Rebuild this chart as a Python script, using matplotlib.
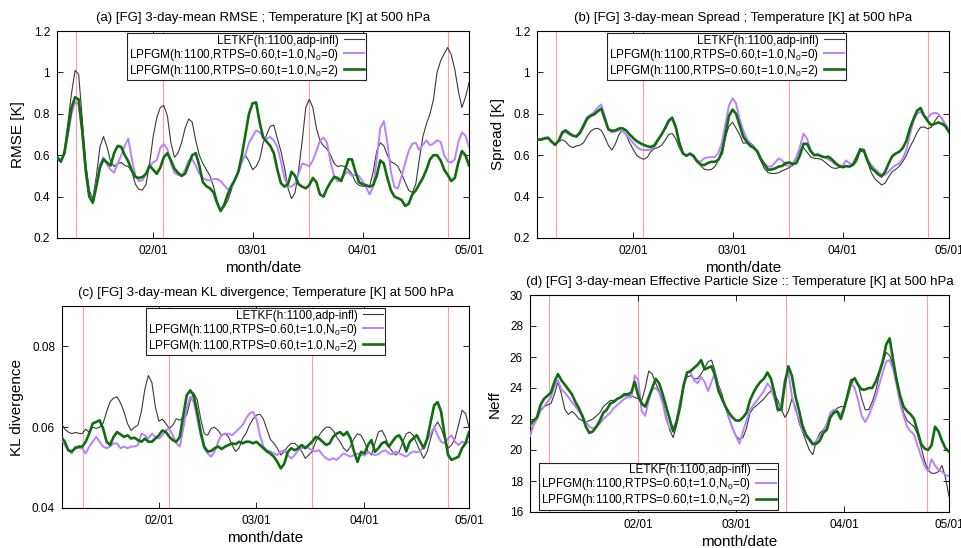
import numpy as np
import matplotlib
matplotlib.use("Agg")
import matplotlib.pyplot as plt

plt.rcParams['font.family'] = ['Liberation Sans', 'DejaVu Sans']
plt.rcParams['mathtext.fontset'] = 'custom'
plt.rcParams['mathtext.rm'] = 'Liberation Sans'
plt.rcParams['mathtext.it'] = 'Liberation Sans:italic'

# day of year (01/01 = 0)
days_ab = np.arange(4, 121)
days_c = np.arange(3, 121)
days_d = np.arange(0, 121)

tick_days = [31, 59, 90, 120]
tick_labels = ['02/01', '03/01', '04/01', '05/01']

# red marker lines
events_abc = [9.3, 33.8, 75.0, 114.0]
events_d = [5.3, 30.8, 73.4, 113.8]

labels = ['LETKF(h:1100,adp-infl)',
          'LPFGM(h:1100,RTPS=0.60,t=1.0,N$_0$=0)',
          'LPFGM(h:1100,RTPS=0.60,t=1.0,N$_0$=2)']

# (a) RMSE
a_letkf = [0.58, 0.565, 0.63, 0.76, 0.90, 1.01, 0.99, 0.78, 0.56, 0.43,
           0.39, 0.50, 0.64, 0.69, 0.64, 0.57, 0.545, 0.56, 0.565, 0.55,
           0.545, 0.52, 0.46, 0.435, 0.432, 0.46, 0.56, 0.69, 0.78, 0.83,
           0.84, 0.79, 0.66, 0.59, 0.61, 0.66, 0.73, 0.775, 0.76, 0.67,
           0.60, 0.56, 0.53, 0.50, 0.45, 0.38, 0.335, 0.35, 0.38, 0.43,
           0.49, 0.52, 0.57, 0.60, 0.57, 0.53, 0.545, 0.58, 0.66, 0.70,
           0.74, 0.745, 0.68, 0.62, 0.54, 0.44, 0.39, 0.42, 0.53, 0.67,
           0.83, 0.87, 0.83, 0.73, 0.67, 0.645, 0.63, 0.60, 0.56, 0.545,
           0.55, 0.545, 0.53, 0.51, 0.47, 0.455, 0.45, 0.448, 0.45, 0.52,
           0.62, 0.66, 0.645, 0.60, 0.568, 0.56, 0.545, 0.51, 0.47, 0.43,
           0.42, 0.46, 0.58, 0.69, 0.75, 0.80, 0.87, 1.00, 1.055, 1.09,
           1.12, 1.085, 1.015, 0.91, 0.83, 0.88, 0.95]
a_pf0 = [0.59, 0.57, 0.61, 0.70, 0.80, 0.855, 0.845, 0.71, 0.51, 0.40,
         0.38, 0.46, 0.555, 0.59, 0.555, 0.53, 0.515, 0.56, 0.60, 0.645,
         0.68, 0.58, 0.50, 0.475, 0.48, 0.51, 0.55, 0.565, 0.575, 0.635,
         0.653, 0.63, 0.56, 0.515, 0.505, 0.50, 0.53, 0.575, 0.58, 0.55,
         0.51, 0.49, 0.48, 0.478, 0.485, 0.485, 0.475, 0.455, 0.435, 0.44,
         0.48, 0.52, 0.565, 0.605, 0.66, 0.69, 0.72, 0.71, 0.69, 0.68,
         0.688, 0.67, 0.64, 0.57, 0.49, 0.45, 0.448, 0.464, 0.51, 0.56,
         0.555, 0.545, 0.575, 0.62, 0.67, 0.685, 0.66, 0.565, 0.50, 0.472,
         0.485, 0.51, 0.52, 0.50, 0.505, 0.50, 0.475, 0.445, 0.41, 0.45,
         0.58, 0.73, 0.765, 0.66, 0.52, 0.445, 0.44, 0.50, 0.56, 0.62,
         0.655, 0.66, 0.625, 0.65, 0.672, 0.648, 0.656, 0.672, 0.665, 0.60,
         0.57, 0.565, 0.58, 0.665, 0.71, 0.695, 0.64]
a_pf2 = [0.59, 0.57, 0.61, 0.72, 0.83, 0.88, 0.87, 0.72, 0.53, 0.40,
         0.37, 0.45, 0.54, 0.58, 0.565, 0.55, 0.61, 0.645, 0.64, 0.60,
         0.57, 0.525, 0.495, 0.49, 0.495, 0.51, 0.55, 0.53, 0.51, 0.54,
         0.59, 0.61, 0.575, 0.535, 0.515, 0.50, 0.51, 0.555, 0.60, 0.61,
         0.55, 0.47, 0.45, 0.44, 0.42, 0.37, 0.33, 0.36, 0.41, 0.45,
         0.48, 0.52, 0.60, 0.70, 0.80, 0.85, 0.855, 0.76, 0.685, 0.665,
         0.645, 0.61, 0.53, 0.465, 0.448, 0.46, 0.52, 0.50, 0.46, 0.448,
         0.44, 0.455, 0.49, 0.47, 0.41, 0.40, 0.44, 0.47, 0.495, 0.49,
         0.475, 0.525, 0.58, 0.58, 0.52, 0.47, 0.46, 0.455, 0.448, 0.455,
         0.50, 0.575, 0.56, 0.49, 0.43, 0.40, 0.392, 0.384, 0.355, 0.365,
         0.41, 0.43, 0.46, 0.49, 0.53, 0.58, 0.60, 0.60, 0.575, 0.53,
         0.505, 0.475, 0.49, 0.565, 0.62, 0.60, 0.55]

# (b) Spread
b_letkf = [0.675, 0.68, 0.685, 0.68, 0.664, 0.65, 0.665, 0.675, 0.665, 0.645,
           0.637, 0.645, 0.648, 0.66, 0.69, 0.715, 0.727, 0.73, 0.72, 0.688,
           0.648, 0.625, 0.655, 0.70, 0.72, 0.70, 0.66, 0.628, 0.60, 0.587,
           0.58, 0.59, 0.618, 0.632, 0.637, 0.648, 0.672, 0.70, 0.705, 0.68,
           0.635, 0.605, 0.60, 0.608, 0.60, 0.575, 0.55, 0.533, 0.528, 0.531,
           0.544, 0.576, 0.63, 0.69, 0.74, 0.76, 0.73, 0.70, 0.658, 0.66,
           0.66, 0.645, 0.61, 0.572, 0.535, 0.516, 0.512, 0.512, 0.515, 0.525,
           0.532, 0.54, 0.552, 0.59, 0.625, 0.636, 0.615, 0.592, 0.585, 0.584,
           0.58, 0.568, 0.552, 0.54, 0.536, 0.54, 0.55, 0.546, 0.545, 0.55,
           0.57, 0.62, 0.615, 0.57, 0.52, 0.488, 0.472, 0.456, 0.465, 0.495,
           0.52, 0.532, 0.547, 0.57, 0.60, 0.64, 0.672, 0.71, 0.735, 0.736,
           0.728, 0.735, 0.765, 0.79, 0.78, 0.735, 0.71]
b_pf0 = [0.676, 0.675, 0.685, 0.686, 0.668, 0.652, 0.67, 0.705, 0.712, 0.70,
         0.692, 0.695, 0.715, 0.75, 0.785, 0.795, 0.808, 0.83, 0.845, 0.79,
         0.725, 0.71, 0.715, 0.72, 0.718, 0.70, 0.68, 0.66, 0.64, 0.628,
         0.625, 0.625, 0.628, 0.64, 0.67, 0.70, 0.735, 0.77, 0.785, 0.74,
         0.66, 0.608, 0.598, 0.61, 0.60, 0.575, 0.568, 0.585, 0.59, 0.59,
         0.592, 0.61, 0.66, 0.75, 0.84, 0.875, 0.85, 0.775, 0.72, 0.68,
         0.655, 0.64, 0.62, 0.585, 0.56, 0.545, 0.545, 0.565, 0.584, 0.575,
         0.552, 0.548, 0.56, 0.59, 0.64, 0.705, 0.68, 0.625, 0.60, 0.605,
         0.595, 0.59, 0.58, 0.57, 0.555, 0.55, 0.548, 0.575, 0.56, 0.556,
         0.59, 0.632, 0.62, 0.58, 0.555, 0.535, 0.52, 0.505, 0.505, 0.52,
         0.54, 0.552, 0.56, 0.585, 0.625, 0.70, 0.765, 0.80, 0.81, 0.79,
         0.78, 0.80, 0.805, 0.80, 0.775, 0.75, 0.72]
b_pf2 = [0.676, 0.675, 0.68, 0.684, 0.665, 0.65, 0.67, 0.71, 0.72, 0.705,
         0.695, 0.69, 0.707, 0.74, 0.775, 0.79, 0.797, 0.812, 0.825, 0.775,
         0.725, 0.718, 0.72, 0.729, 0.73, 0.72, 0.70, 0.683, 0.668, 0.658,
         0.65, 0.643, 0.64, 0.648, 0.675, 0.70, 0.73, 0.765, 0.78, 0.735,
         0.66, 0.61, 0.597, 0.607, 0.595, 0.57, 0.555, 0.552, 0.562, 0.568,
         0.568, 0.578, 0.61, 0.70, 0.79, 0.82, 0.80, 0.745, 0.69, 0.665,
         0.645, 0.635, 0.618, 0.58, 0.555, 0.53, 0.531, 0.536, 0.545, 0.548,
         0.562, 0.565, 0.557, 0.562, 0.60, 0.655, 0.655, 0.62, 0.60, 0.602,
         0.595, 0.59, 0.593, 0.58, 0.562, 0.548, 0.542, 0.547, 0.545, 0.555,
         0.59, 0.628, 0.625, 0.575, 0.54, 0.525, 0.508, 0.497, 0.52, 0.56,
         0.595, 0.608, 0.617, 0.635, 0.67, 0.73, 0.775, 0.815, 0.828, 0.79,
         0.765, 0.745, 0.752, 0.758, 0.752, 0.74, 0.712]

# (c) KL divergence
c_letkf = [0.061, 0.0595, 0.0588, 0.0584, 0.0587, 0.0585, 0.0584, 0.0595, 0.0588, 0.060,
           0.0597, 0.060, 0.061, 0.0638, 0.0663, 0.0672, 0.0675, 0.066, 0.0638, 0.0609,
           0.0592, 0.060, 0.0605, 0.064, 0.0695, 0.0728, 0.071, 0.065, 0.0615, 0.062,
           0.0609, 0.0597, 0.0605, 0.0621, 0.0617, 0.0625, 0.063, 0.0665, 0.0685, 0.0668,
           0.0621, 0.0584, 0.058, 0.0597, 0.060, 0.0592, 0.058, 0.0584, 0.0576, 0.0556,
           0.054, 0.0548, 0.0572, 0.0585, 0.0605, 0.062, 0.063, 0.0632, 0.062, 0.0595,
           0.057, 0.056, 0.0548, 0.0531, 0.054, 0.0552, 0.056, 0.056, 0.0552, 0.054,
           0.0523, 0.0531, 0.054, 0.0564, 0.058, 0.0592, 0.06, 0.06, 0.0592, 0.0576,
           0.0564, 0.0548, 0.054, 0.0552, 0.0572, 0.0584, 0.058, 0.0564, 0.054, 0.0531,
           0.056, 0.0588, 0.0592, 0.0576, 0.0552, 0.054, 0.0531, 0.054, 0.0564, 0.0584,
           0.0588, 0.058, 0.056, 0.054, 0.0523, 0.054, 0.0572, 0.06, 0.0613, 0.0597,
           0.0572, 0.0548, 0.0556, 0.0572, 0.0605, 0.0642, 0.0634, 0.060]
c_pf0 = [0.0572, 0.0556, 0.0543, 0.0535, 0.0552, 0.0548, 0.0548, 0.0535, 0.0552, 0.0564,
         0.0576, 0.0564, 0.0552, 0.0548, 0.0552, 0.056, 0.056, 0.0548, 0.0552, 0.0548,
         0.0552, 0.0552, 0.0556, 0.0584, 0.058, 0.0572, 0.0584, 0.0576, 0.0572, 0.058,
         0.0592, 0.0597, 0.058, 0.056, 0.0552, 0.0597, 0.0646, 0.0675, 0.0663, 0.0621,
         0.058, 0.0548, 0.0535, 0.0527, 0.054, 0.0564, 0.058, 0.0584, 0.0584, 0.058,
         0.0588, 0.0597, 0.0605, 0.0621, 0.0634, 0.0638, 0.0621, 0.058, 0.0552, 0.0543,
         0.054, 0.0535, 0.0531, 0.054, 0.0543, 0.0531, 0.0523, 0.0531, 0.0543, 0.0548,
         0.0552, 0.0548, 0.0543, 0.054, 0.0543, 0.0531, 0.0523, 0.0519, 0.0523, 0.0519,
         0.0527, 0.0535, 0.0531, 0.0527, 0.0531, 0.0535, 0.0531, 0.053, 0.0538, 0.0535,
         0.0531, 0.0533, 0.054, 0.0543, 0.0535, 0.0533, 0.054, 0.0535, 0.0531, 0.0527,
         0.0535, 0.054, 0.0538, 0.054, 0.0552, 0.0568, 0.0584, 0.06, 0.058, 0.0564,
         0.056, 0.0572, 0.058, 0.0564, 0.0556, 0.0564, 0.056, 0.0564]
c_pf2 = [0.0576, 0.0564, 0.0543, 0.054, 0.0548, 0.0552, 0.0552, 0.0564, 0.0584, 0.0609,
         0.0613, 0.0617, 0.0597, 0.0564, 0.0556, 0.0576, 0.0588, 0.0582, 0.0576, 0.058,
         0.0572, 0.0574, 0.0568, 0.0564, 0.0572, 0.0564, 0.0564, 0.0572, 0.058, 0.0592,
         0.0588, 0.0576, 0.0568, 0.0564, 0.0576, 0.0629, 0.0679, 0.0691, 0.0679, 0.0638,
         0.0588, 0.0552, 0.054, 0.0541, 0.0548, 0.0552, 0.0546, 0.0552, 0.0556, 0.056,
         0.0558, 0.0564, 0.056, 0.0564, 0.0564, 0.056, 0.0564, 0.0556, 0.0548, 0.054,
         0.0535, 0.0527, 0.0514, 0.0498, 0.051, 0.0539, 0.0548, 0.0543, 0.0548, 0.0556,
         0.0548, 0.0556, 0.0564, 0.0576, 0.0572, 0.0564, 0.0556, 0.056, 0.0576, 0.0584,
         0.0588, 0.058, 0.0588, 0.0572, 0.054, 0.0514, 0.0539, 0.0535, 0.0556, 0.0568,
         0.0539, 0.0548, 0.056, 0.0564, 0.0552, 0.0564, 0.0576, 0.058, 0.0564, 0.054,
         0.0564, 0.0572, 0.058, 0.0564, 0.0548, 0.0572, 0.0613, 0.0654, 0.0662, 0.0638,
         0.058, 0.0531, 0.0519, 0.0523, 0.0527, 0.0548, 0.056, 0.0588]

# (d) effective particle size
d_letkf = [21.2, 21.6, 22.1, 22.6, 22.8, 22.9, 23.0, 23.6, 24.4, 23.6,
           22.6, 22.3, 22.5, 22.3, 22.0, 21.9, 21.8, 21.9, 22.0, 22.2,
           22.4, 22.8, 23.0, 23.2, 23.2, 23.3, 23.4, 23.5, 23.5, 23.5,
           23.4, 23.3, 23.2, 24.0, 25.1, 24.9, 24.3, 23.8, 23.2, 22.2,
           21.3, 20.8, 21.6, 23.0, 24.3, 24.7, 24.8, 24.6, 24.6, 24.9,
           25.3, 25.7, 25.8, 25.1, 24.2, 23.6, 22.7, 22.0, 21.4, 20.9,
           20.7, 20.8, 21.4, 22.4, 22.7, 22.9, 23.1, 23.3, 23.6, 23.8,
           23.6, 23.2, 22.6, 22.1, 22.5, 23.3, 22.8, 21.8, 21.2, 20.6,
           20.0, 19.7, 20.6, 21.1, 21.3, 21.6, 22.1, 22.5, 22.7, 22.8,
           22.8, 23.4, 24.2, 24.7, 24.2, 23.3, 22.6, 22.6, 23.1, 23.8,
           24.8, 25.6, 26.3, 26.1, 25.4, 24.7, 23.5, 22.4, 21.9, 21.7,
           21.5, 21.0, 20.2, 19.3, 18.7, 18.5, 18.5, 18.6, 19.0, 18.2,
           17.0]
d_pf0 = [20.9, 21.6, 22.0, 22.5, 22.8, 23.1, 23.4, 24.1, 24.5, 23.9,
         23.7, 23.4, 23.1, 22.8, 22.5, 22.2, 21.8, 21.5, 21.4, 21.5,
         21.7, 22.0, 22.2, 22.4, 22.7, 22.9, 23.1, 23.3, 23.4, 23.4,
         24.8, 24.5, 22.5, 22.2, 23.2, 23.9, 24.0, 23.7, 23.0, 22.0,
         21.4, 21.3, 22.0, 23.2, 24.0, 25.0, 25.0, 24.5, 24.3, 24.7,
         24.4, 23.8, 24.4, 25.0, 24.0, 23.2, 22.8, 22.1, 21.4, 20.9,
         20.4, 21.2, 21.9, 22.6, 22.9, 23.2, 23.5, 23.8, 24.3, 24.0,
         23.3, 22.5, 23.0, 24.6, 25.0, 23.5, 22.6, 22.0, 21.3, 20.9,
         20.6, 20.3, 20.6, 20.9, 21.2, 21.7, 22.4, 22.6, 22.5, 22.3,
         22.8, 23.4, 24.3, 24.0, 23.2, 22.2, 21.8, 22.2, 22.8, 23.4,
         24.2, 25.0, 25.7, 25.8, 25.2, 24.2, 23.0, 22.2, 21.5, 21.2,
         21.0, 20.3, 19.6, 19.0, 18.6, 19.4, 19.0, 18.7, 18.6, 18.4,
         18.3]
d_pf2 = [21.6, 21.9, 22.1, 22.9, 23.3, 23.5, 23.7, 24.4, 24.9, 24.5,
         24.2, 23.9, 23.6, 23.1, 22.7, 22.2, 21.5, 21.1, 21.2, 21.5,
         21.9, 22.4, 22.6, 23.0, 23.1, 23.3, 23.4, 23.6, 23.6, 23.7,
         24.4, 23.5, 23.0, 22.8, 23.4, 24.0, 24.6, 24.3, 23.6, 22.8,
         22.0, 21.2, 21.8, 22.8, 24.2, 25.0, 25.1, 25.3, 25.5, 25.8,
         25.2, 25.3, 25.4, 24.8, 23.8, 23.3, 22.8, 22.4, 22.1, 21.9,
         21.9, 22.1, 22.4, 23.2, 23.7, 24.1, 24.4, 24.6, 25.0, 24.6,
         23.7, 22.6, 22.6, 24.3, 25.4, 24.8, 23.5, 22.6, 21.6, 21.0,
         20.7, 20.4, 20.4, 20.6, 21.1, 21.3, 22.1, 22.4, 22.5, 22.0,
         22.7, 23.6, 24.5, 24.6, 24.2, 23.9, 23.9, 24.0, 24.0, 24.4,
         25.0, 25.7, 26.8, 27.2, 25.8, 24.5, 23.5, 22.8, 22.5, 22.3,
         22.0, 21.2, 20.4, 20.1, 20.0, 20.3, 21.5, 21.2, 20.6, 20.1,
         19.9]

styles = [dict(color='#3a3a3a', lw=0.8),
          dict(color='#bb80ff', lw=1.4),
          dict(color='#106e10', lw=1.9)]

W, H = 962, 548
fig = plt.figure(figsize=(W / 100, H / 100), dpi=100)


def make_axes(left, top, right, bottom):
    return fig.add_axes([left / W, 1 - bottom / H, (right - left) / W, (bottom - top) / H])


panels = [
    dict(box=(57, 31, 469, 238), days=days_ab, series=(a_letkf, a_pf0, a_pf2),
         xlim=(3.9, 120), ylim=(0.2, 1.2), yticks=[0.2, 0.4, 0.6, 0.8, 1.0, 1.2],
         yfmt=['0.2', '0.4', '0.6', '0.8', '1', '1.2'], ylabel='RMSE [K]',
         title='(a) [FG] 3-day-mean RMSE ; Temperature [K] at 500 hPa',
         events=events_abc, leg=dict(loc='upper center', bbox_to_anchor=(0.46, 1.0))),
    dict(box=(537, 31, 949, 238), days=days_ab, series=(b_letkf, b_pf0, b_pf2),
         xlim=(3.9, 120), ylim=(0.2, 1.2), yticks=[0.2, 0.4, 0.6, 0.8, 1.0, 1.2],
         yfmt=['0.2', '0.4', '0.6', '0.8', '1', '1.2'], ylabel='Spread [K]',
         title='(b) [FG] 3-day-mean Spread ; Temperature [K] at 500 hPa',
         events=events_abc, leg=dict(loc='upper center', bbox_to_anchor=(0.46, 1.0))),
    dict(box=(62, 306, 469, 508), days=days_c, series=(c_letkf, c_pf0, c_pf2),
         xlim=(3.2, 120), ylim=(0.04, 0.09), yticks=[0.04, 0.06, 0.08],
         yfmt=['0.04', '0.06', '0.08'], ylabel='KL divergence',
         title='(c) [FG] 3-day-mean KL divergence; Temperature [K] at 500 hPa',
         events=events_abc, leg=dict(loc='upper center', bbox_to_anchor=(0.5, 1.0))),
    dict(box=(530, 295, 949, 512), days=days_d, series=(d_letkf, d_pf0, d_pf2),
         xlim=(0, 120), ylim=(16, 30), yticks=list(range(16, 31, 2)),
         yfmt=[str(v) for v in range(16, 31, 2)], ylabel='Neff',
         title='(d) [FG] 3-day-mean Effective Particle Size :: Temperature [K] at 500 hPa',
         events=events_d, leg=dict(loc='lower left', bbox_to_anchor=(0.017, 0.0))),
]

for p in panels:
    ax = make_axes(*p['box'])
    for d in p['events']:
        ax.axvline(d, color='#ffa0a0', lw=0.8, zorder=1)
    for vals, lab, st in zip(p['series'], labels, styles):
        ax.plot(p['days'], vals, label=lab, zorder=3, **st)
    ax.set_xlim(*p['xlim'])
    ax.set_ylim(*p['ylim'])
    ax.set_xticks(tick_days)
    ax.set_xticklabels(tick_labels)
    ax.set_yticks(p['yticks'])
    ax.set_yticklabels(p['yfmt'])
    ax.tick_params(direction='in', top=True, right=True, length=4, width=0.6,
                   labelsize=8.5, pad=5)
    for s in ax.spines.values():
        s.set_linewidth(0.8)
    ax.set_xlabel('month/date', fontsize=11, labelpad=3)
    ax.set_ylabel(p['ylabel'], fontsize=11, labelpad=6)
    ax.set_title(p['title'], fontsize=9.5, pad=7)
    leg = ax.legend(fontsize=8.5, markerfirst=False, fancybox=False, framealpha=1,
                    edgecolor='#222222', borderpad=0.15, labelspacing=0.0,
                    handlelength=1.7, handletextpad=0.5, borderaxespad=0.15,
                    **p['leg'])
    leg.get_frame().set_linewidth(0.8)

fig.savefig('out.png', dpi=100)
